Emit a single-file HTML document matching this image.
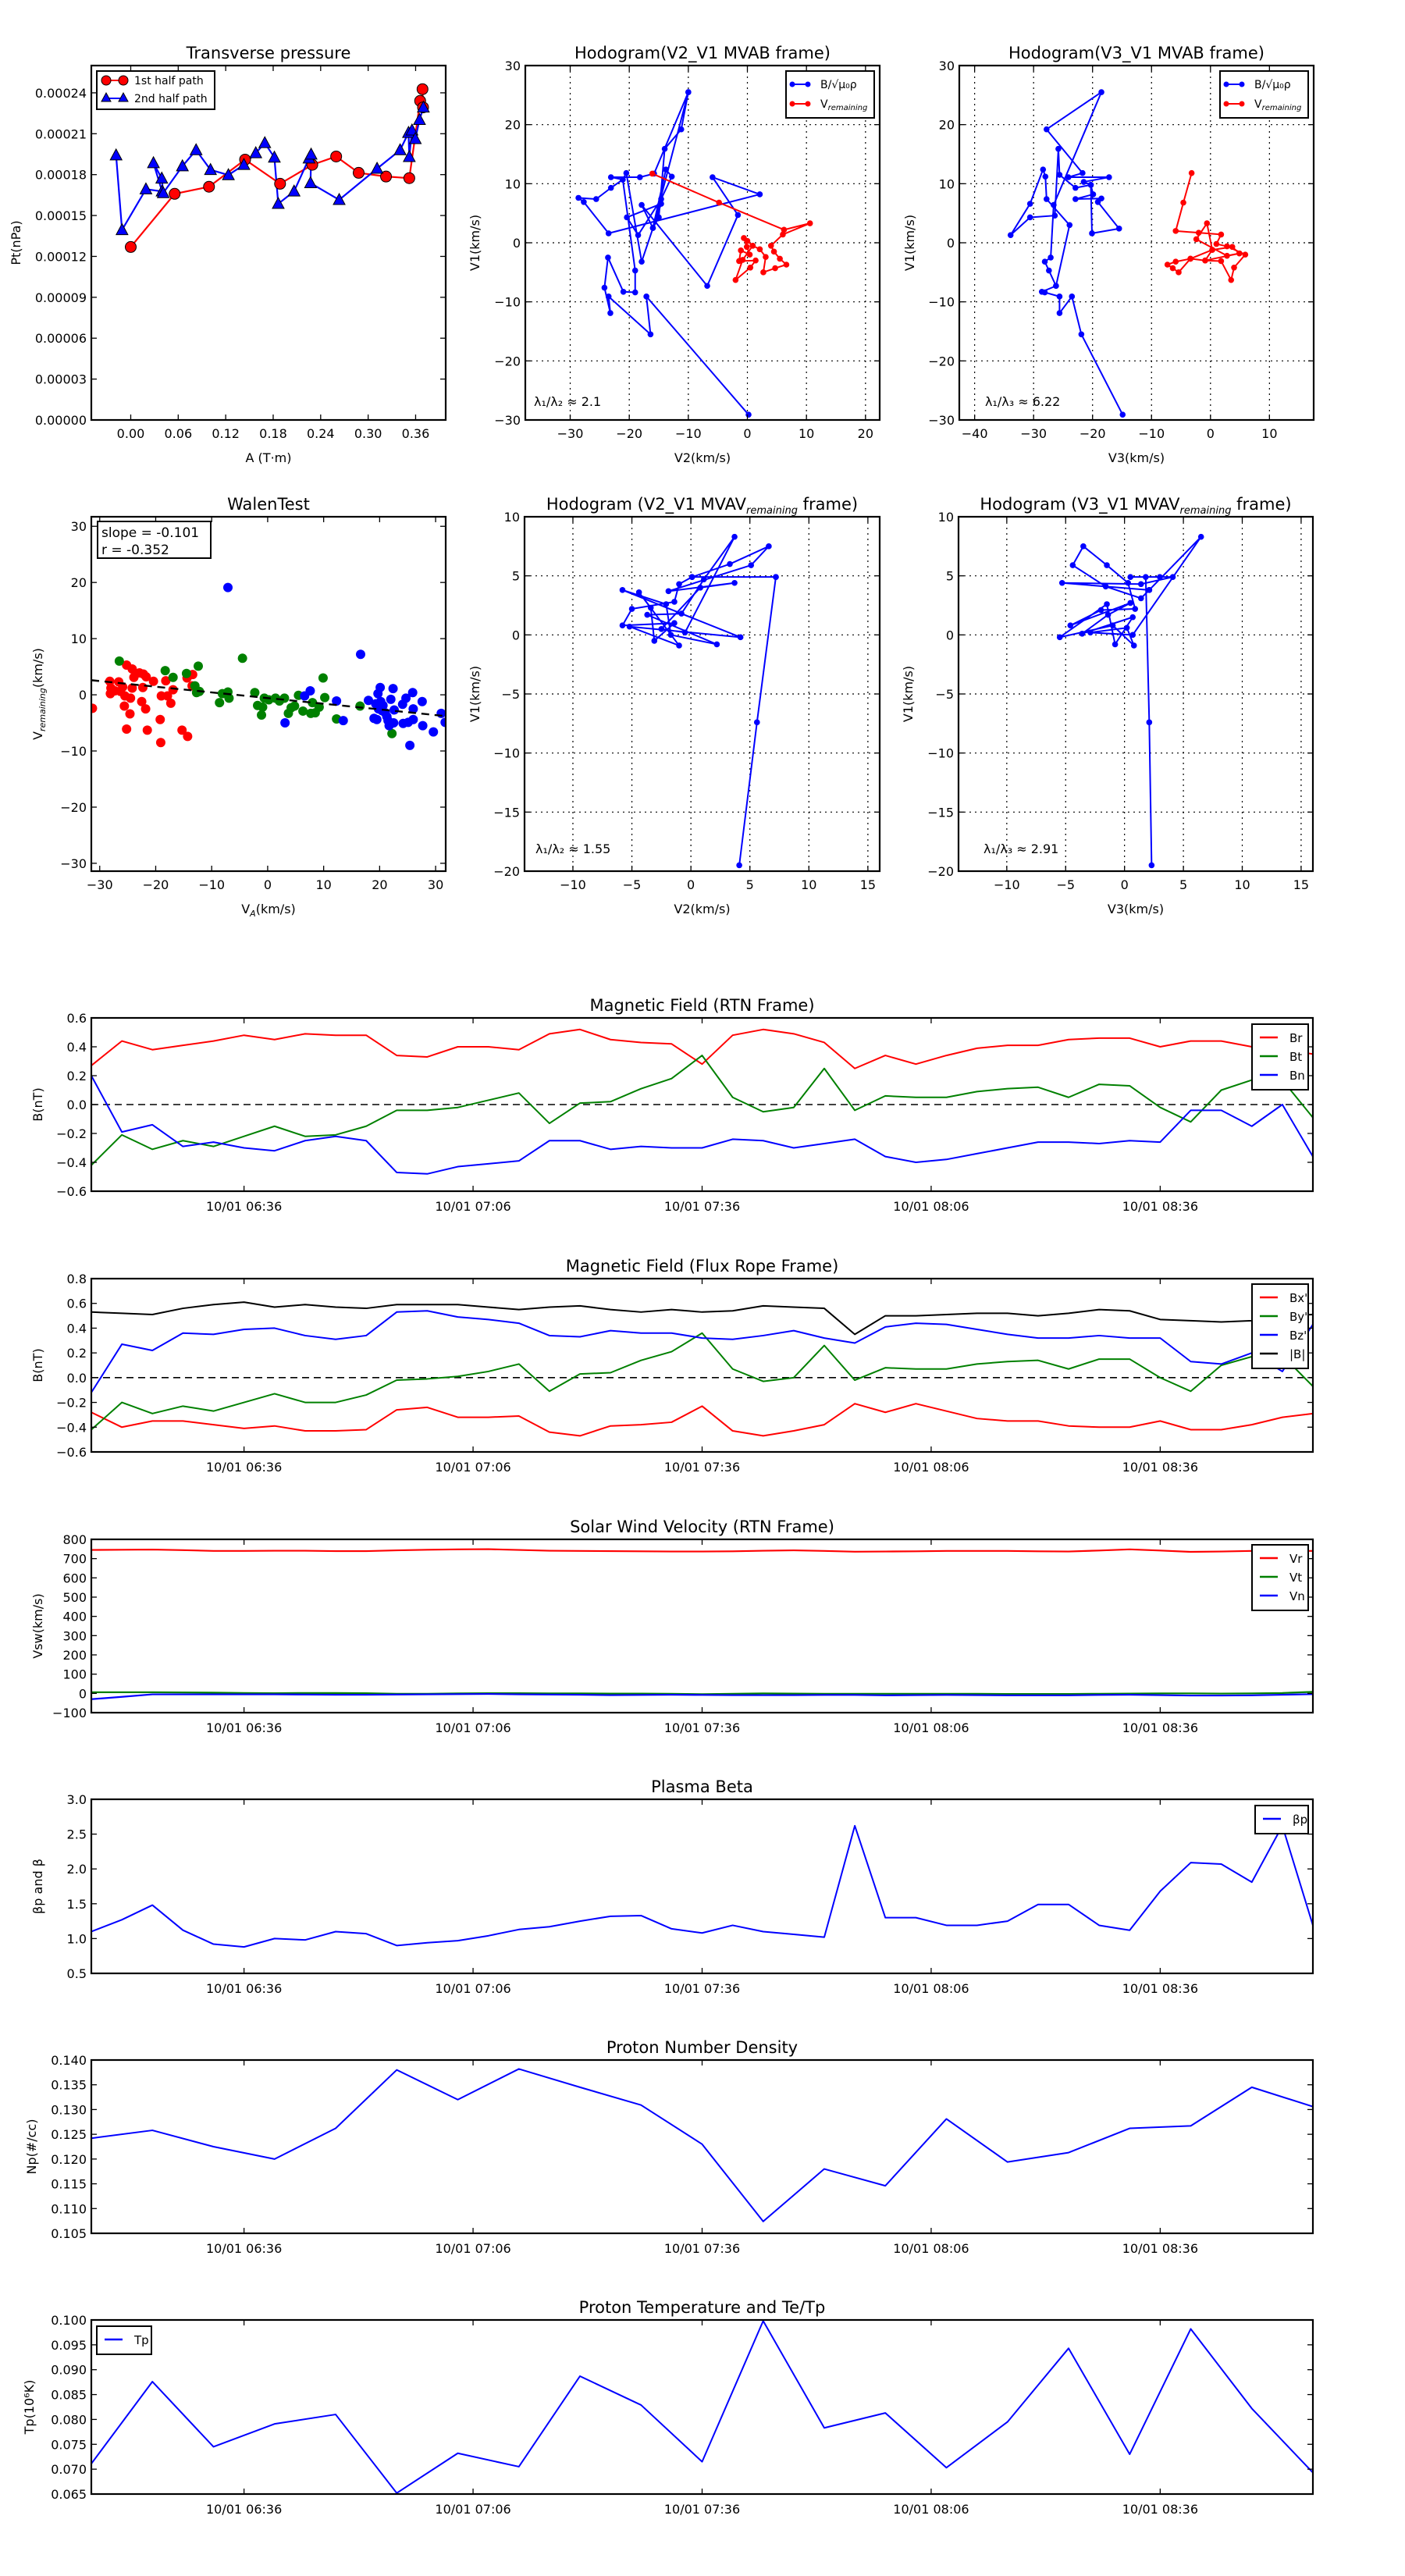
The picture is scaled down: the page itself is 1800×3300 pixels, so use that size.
<!DOCTYPE html>
<html><head><meta charset="utf-8"><title>Flux rope analysis</title>
<style>
html,body{margin:0;padding:0;background:#fff;}
svg{display:block;font-family:"DejaVu Sans","Liberation Sans",sans-serif;}
</style></head>
<body>
<svg id="fig" width="1800" height="3300" viewBox="0 0 1800 3300" xmlns="http://www.w3.org/2000/svg"><rect x="0" y="0" width="1800" height="3300" fill="#fff"/></svg>
<script>
// ---------- Data ----------
const ptFirstA=[0.000,0.0555,0.0989,0.1445,0.1887,0.2294,0.2596,0.288,0.3226,0.352,0.3657,0.3694,0.3687];
const ptFirstP=[1.269e-4,1.659e-4,1.711e-4,1.910e-4,1.733e-4,1.872e-4,1.933e-4,1.813e-4,1.786e-4,1.774e-4,2.341e-4,2.293e-4,2.427e-4];
const ptSecondA=[-0.0185,-0.011,0.0192,0.0396,0.0287,0.0392,0.0411,0.0653,0.0826,0.1008,0.1234,0.143,0.158,0.1694,0.1815,0.1864,0.2064,0.2253,0.2279,0.2272,0.2634,0.3113,0.3404,0.351,0.352,0.3554,0.3596,0.3649,0.3698];
const ptSecondP=[1.942e-4,1.394e-4,1.693e-4,1.677e-4,1.885e-4,1.772e-4,1.665e-4,1.862e-4,1.98e-4,1.835e-4,1.797e-4,1.872e-4,1.958e-4,2.032e-4,1.926e-4,1.586e-4,1.677e-4,1.919e-4,1.948e-4,1.738e-4,1.615e-4,1.844e-4,1.98e-4,2.107e-4,1.93e-4,2.125e-4,2.062e-4,2.202e-4,2.293e-4];

const h1BlueX=[-10.0,-11.2,-14.0,-15.0,-16.0,-13.8,-12.8,-14.6,-18.5,-20.4,-14.6,-17.9,-20.5,-21.1,-23.1,-18.2,-15.8,-10.0,-16.0,-17.9,-6.8,-1.6,-5.9,2.1,-23.5,-27.7,-28.6,-25.6,-23.1,-21.1,-19.0,-19.0,-21.0,-23.6,-24.2,-23.2,-23.5,-16.4,-17.1,0.2];
const h1BlueY=[25.5,19.2,15.9,4.3,2.5,12.4,11.2,7.4,1.3,4.3,6.6,-3.2,11.8,10.7,11.1,11.1,11.7,25.5,2.5,6.4,-7.3,4.7,11.1,8.2,1.6,6.9,7.6,7.4,9.3,10.7,-4.7,-8.4,-8.3,-2.5,-7.6,-11.9,-9.1,-15.5,-9.1,-29.1];
const h1RedX=[-16.1,-4.8,6.2,10.6,6.0,4.0,4.5,5.5,6.6,4.7,2.7,3.1,2.1,0.9,0,-0.6,-0.1,0.4,-1.1,-1.4,1.4,0.5,-2.0,-0.8,0.9];
const h1RedY=[11.7,6.8,2.2,3.3,1.4,-0.5,-1.5,-2.7,-3.7,-4.3,-5.0,-2.4,-1.1,-0.5,0.3,0.8,-0.7,-2.0,-1.3,-3.1,-3.0,-4.2,-6.3,-2.9,-0.5];

const h2BlueX=[-14.9,-21.9,-23.5,-25.6,-25.6,-28.1,-28.6,-26.2,-27.4,-28.1,-27.1,-26.6,-18.5,-27.8,-21.7,-24.1,-17.2,-21.5,-20.3,-19.9,-22.9,-18.5,-19.1,-15.5,-20.1,-20.3,-22.9,-25.6,-25.8,-26.4,-30.6,-33.9,-30.6,-28.4,-28.0,-27.8,-23.9,-26.2];
const h2BlueY=[-29.1,-15.5,-9.1,-11.9,-9.1,-8.4,-8.3,-7.3,-4.7,-3.2,-2.5,6.4,25.5,19.2,11.8,11.1,11.1,10.3,9.8,8.2,7.4,7.5,6.9,2.4,1.6,9.8,9.3,11.5,15.9,4.6,4.3,1.3,6.6,12.4,11.2,7.4,3.0,-7.3];
const h2RedX=[-3.2,-4.6,-5.9,-2.0,1.8,1.0,2.8,5.9,4.0,3.5,1.8,-0.9,-3.4,-5.9,-7.3,-6.4,-5.4,-3.4,0.3,-0.6,-2.4,2.8,4.9,3.7,0.3,-0.9,4.9];
const h2RedY=[11.8,6.8,2.0,1.7,1.4,-0.2,-0.6,-2.0,-4.2,-6.3,-3.1,-3.0,-2.7,-3.2,-3.7,-4.3,-5.0,-2.7,-1.2,3.3,0.6,-2.2,-1.8,-0.7,-1.2,-3.0,-1.8];

const walenRedX=[-31.3,-28.2,-28.1,-28.0,-27.3,-26.6,-26.3,-25.9,-25.6,-25.5,-25.2,-25.2,-24.6,-24.5,-24.2,-24.2,-23.9,-22.9,-22.5,-22.3,-22.2,-21.8,-21.7,-21.5,-20.4,-19.2,-19.1,-19.0,-18.2,-17.9,-17.3,-16.9,-15.3,-14.4,-14.3,-13.5,-13.4];
const walenRedY=[-2.4,2.4,0.2,1.2,0.7,2.3,0.6,1.4,-2.0,-0.2,5.3,-6.1,-3.4,-0.6,4.6,1.2,3.1,3.9,-1.2,1.3,3.7,-2.5,3.2,-6.3,2.4,-4.4,-8.5,-0.2,2.5,-0.2,-1.5,0.9,-6.3,3.0,-7.4,1.6,3.6];
const walenGreenX=[-26.5,-18.3,-16.9,-14.5,-13.0,-12.7,-12.4,-12.2,-8.6,-8.1,-7.1,-6.9,-4.5,-2.3,-1.8,-1.1,-0.9,-0.6,0.2,1.4,2.1,3.0,3.7,4.2,4.8,5.5,6.3,7.7,8.0,8.5,9.2,9.9,10.2,12.3,16.5,22.2];
const walenGreenY=[6.0,4.3,3.1,3.8,1.6,0.4,5.1,0.6,-1.4,0.2,0.5,-0.6,6.5,0.4,-1.9,-3.6,-2.2,-0.6,-0.9,-0.6,-1.1,-0.6,-3.3,-2.3,-2.0,-0.1,-2.9,-3.3,-1.4,-3.2,-2.2,3.0,-0.5,-4.3,-2.0,-6.9];
const walenBlueX=[-7.1,3.1,6.6,7.6,12.3,13.5,16.6,18.0,19.0,19.3,19.5,19.7,19.8,20.1,20.2,20.4,20.6,21.0,21.3,21.5,21.7,22.0,22.4,22.5,22.6,24.1,24.2,24.7,25.1,25.4,25.9,26.0,26.0,27.6,27.7,29.6,31.0,31.7];
const walenBlueY=[19.1,-5.0,-0.2,0.7,-1.1,-4.6,7.2,-1.0,-4.2,-1.6,-4.4,0.2,-2.5,1.3,-1.2,-2.8,-1.9,-3.2,-3.9,-4.6,-5.5,-0.8,1.1,-5.0,-2.7,-1.7,-5.1,-0.6,-4.9,-9.0,0.4,-2.5,-4.4,-1.2,-5.5,-6.6,-3.3,-4.9];
const walenSlope=-0.101, walenIntercept=-0.58;

const h3X=[4.1,5.6,7.2,0.1,-1.0,-1.4,-5.0,-5.8,-1.4,-3.1,-3.4,-4.4,-1.0,-5.2,4.2,-5.8,-2.1,-1.7,2.2,-3.7,-0.8,1.1,3.7,-0.5,-2.5,0.8,3.7,-1.9,5.1,6.6,3.3,0.1,7.2];
const h3Y=[-19.5,-7.4,4.9,4.9,4.3,2.8,2.2,0.8,1.0,-0.5,2.3,3.6,-0.9,0.7,-0.2,3.8,2.6,0,-0.8,1.7,1.8,4.7,8.3,0.2,0.5,4.0,4.4,3.7,5.9,7.5,6.0,4.9,4.9];
const h4X=[2.3,2.1,1.8,0.5,3.0,4.1,1.4,-5.3,2.1,1.4,-1.6,-4.4,-3.5,-1.5,0.3,0.9,-2.0,-4.6,0.5,-1.4,-3.6,0.7,-0.8,-1.5,-5.5,-1.0,0.8,0.2,-2.9,0.7,6.5,2.1];
const h4Y=[-19.5,-7.4,4.9,4.9,4.9,4.9,4.3,4.4,3.8,3.1,4.1,5.9,7.5,5.9,4.4,2.2,2.1,0.8,2.7,1.7,0.1,1.5,-0.8,2.6,-0.2,0.8,-0.9,0.6,0.2,0,8.3,3.8];

// time series (4-min cadence, 41 points from 06:16)
const tickMinutes=[20,50,80,110,140];
const tickLabels=["10/01 06:36","10/01 07:06","10/01 07:36","10/01 08:06","10/01 08:36"];
const Br=[0.27,0.44,0.38,0.41,0.44,0.48,0.45,0.49,0.48,0.48,0.34,0.33,0.40,0.40,0.38,0.49,0.52,0.45,0.43,0.42,0.28,0.48,0.52,0.49,0.43,0.25,0.34,0.28,0.34,0.39,0.41,0.41,0.45,0.46,0.46,0.40,0.44,0.44,0.40,0.38,0.35];
const Bt=[-0.42,-0.21,-0.31,-0.25,-0.29,-0.22,-0.15,-0.22,-0.21,-0.15,-0.04,-0.04,-0.02,0.03,0.08,-0.13,0.01,0.02,0.11,0.18,0.34,0.05,-0.05,-0.02,0.25,-0.04,0.06,0.05,0.05,0.09,0.11,0.12,0.05,0.14,0.13,-0.02,-0.12,0.10,0.17,0.17,-0.09];
const Bn=[0.20,-0.19,-0.14,-0.29,-0.26,-0.30,-0.32,-0.25,-0.22,-0.25,-0.47,-0.48,-0.43,-0.41,-0.39,-0.25,-0.25,-0.31,-0.29,-0.30,-0.30,-0.24,-0.25,-0.30,-0.27,-0.24,-0.36,-0.40,-0.38,-0.34,-0.30,-0.26,-0.26,-0.27,-0.25,-0.26,-0.04,-0.04,-0.15,0.00,-0.36];
const Bxp=[-0.28,-0.40,-0.35,-0.35,-0.38,-0.41,-0.39,-0.43,-0.43,-0.42,-0.26,-0.24,-0.32,-0.32,-0.31,-0.44,-0.47,-0.39,-0.38,-0.36,-0.23,-0.43,-0.47,-0.43,-0.38,-0.21,-0.28,-0.21,-0.27,-0.33,-0.35,-0.35,-0.39,-0.40,-0.40,-0.35,-0.42,-0.42,-0.38,-0.32,-0.29];
const Byp=[-0.42,-0.20,-0.29,-0.23,-0.27,-0.20,-0.13,-0.20,-0.20,-0.14,-0.02,-0.01,0.01,0.05,0.11,-0.11,0.03,0.04,0.14,0.21,0.36,0.07,-0.03,0.00,0.26,-0.02,0.08,0.07,0.07,0.11,0.13,0.14,0.07,0.15,0.15,0.00,-0.11,0.10,0.17,0.18,-0.07];
const Bzp=[-0.12,0.27,0.22,0.36,0.35,0.39,0.40,0.34,0.31,0.34,0.53,0.54,0.49,0.47,0.44,0.34,0.33,0.38,0.36,0.36,0.32,0.31,0.34,0.38,0.32,0.28,0.41,0.44,0.43,0.39,0.35,0.32,0.32,0.34,0.32,0.32,0.13,0.11,0.20,0.05,0.43];
const Bmag=[0.53,0.52,0.51,0.56,0.59,0.61,0.57,0.59,0.57,0.56,0.59,0.59,0.59,0.57,0.55,0.57,0.58,0.55,0.53,0.55,0.53,0.54,0.58,0.57,0.56,0.35,0.50,0.50,0.51,0.52,0.52,0.50,0.52,0.55,0.54,0.47,0.46,0.45,0.46,0.50,0.51];
const Vr=[745,746,747,744,740,740,741,741,739,739,743,746,748,749,745,741,740,739,738,737,737,738,741,743,740,736,737,738,740,740,740,738,737,742,748,742,735,737,740,740,740];
const Vt=[6,6,6,5,4,2,1,2,2,1,-2,-2,0,1,1,0,0,-1,-1,-2,-4,-2,0,-1,-2,-2,-2,-2,-2,-2,-3,-3,-3,-2,-1,0,0,-1,0,2,8];
const Vn=[-30,-18,-5,-5,-5,-5,-5,-6,-7,-7,-6,-5,-4,-3,-5,-6,-7,-9,-8,-7,-8,-9,-9,-9,-8,-8,-10,-9,-8,-9,-10,-10,-10,-8,-7,-9,-11,-11,-10,-7,-4];
const betaP=[1.10,1.27,1.48,1.12,0.92,0.88,1.00,0.98,1.10,1.07,0.90,0.94,0.97,1.04,1.13,1.17,1.25,1.32,1.33,1.14,1.08,1.19,1.10,1.06,1.02,2.62,1.30,1.30,1.19,1.19,1.25,1.49,1.49,1.19,1.12,1.68,2.09,2.07,1.81,2.62,1.19];
// 8-min cadence, 21 points
const Np=[0.1242,0.1258,0.1225,0.1200,0.1262,0.1380,0.1320,0.1382,0.1345,0.1309,0.1230,0.1074,0.1180,0.1146,0.1281,0.1194,0.1213,0.1262,0.1267,0.1345,0.1306];
const Tp=[0.0711,0.0876,0.0745,0.0791,0.0810,0.0652,0.0732,0.0705,0.0887,0.0829,0.0715,0.0998,0.0783,0.0813,0.0703,0.0795,0.0943,0.0730,0.0982,0.0822,0.0693];

// ---------- Helpers ----------
const NS='http://www.w3.org/2000/svg';
const fig=document.getElementById('fig');
function mk(tag,parent){const e=document.createElementNS(NS,tag);parent.appendChild(e);return e;}
function setA(e,o){for(const k in o)e.setAttribute(k,o[k]);return e;}
function txt(parent,x,y,s,size,anchor,extra){const t=mk('text',parent);setA(t,{x:x,y:y,'font-size':size,'text-anchor':anchor||'middle',fill:'#000'});if(extra)setA(t,extra);t.textContent=s;return t;}
function fmt(v,d){const s=Math.abs(v).toFixed(d);return (v<-1e-12?'\u2212':'')+s;}
let clipN=0;

function makeAxes(c){
  const g=mk('g',fig);
  
  
  const [x0,y0,x1,y1]=c.box;
  const sx=v=>x0+(v-c.xlim[0])/(c.xlim[1]-c.xlim[0])*(x1-x0);
  const sy=v=>y1-(v-c.ylim[0])/(c.ylim[1]-c.ylim[0])*(y1-y0);
  const id='clip'+(clipN++);
  const cp=mk('clipPath',g);cp.setAttribute('id',id);
  setA(mk('rect',cp),{x:x0,y:y0,width:x1-x0,height:y1-y0});
  const grid=mk('g',g);
  
  
  const data=mk('g',g);data.setAttribute('clip-path','url(#'+id+')');
  const front=mk('g',g);
  // ticks
  const tg=mk('g',front);
  
  
  c.xticks.forEach((v,i)=>{
    const X=sx(v);
    if(c.grid)setA(mk('line',grid),{x1:X,x2:X,y1:y0,y2:y1,stroke:'#000','stroke-width':1.2,'stroke-dasharray':'2,5'});
    setA(mk('line',tg),{x1:X,x2:X,y1:y1,y2:y1-7,stroke:'#000','stroke-width':1.3});
    setA(mk('line',tg),{x1:X,x2:X,y1:y0,y2:y0+7,stroke:'#000','stroke-width':1.3});
    const lab=txt(front,X,y1+(c.xtOff||23),c.xtl[i],c.tsize||16,'middle');
    
    
  });
  c.yticks.forEach((v,i)=>{
    const Y=sy(v);
    if(c.grid)setA(mk('line',grid),{x1:x0,x2:x1,y1:Y,y2:Y,stroke:'#000','stroke-width':1.2,'stroke-dasharray':'2,5'});
    setA(mk('line',tg),{x1:x0,x2:x0+7,y1:Y,y2:Y,stroke:'#000','stroke-width':1.3});
    setA(mk('line',tg),{x1:x1,x2:x1-7,y1:Y,y2:Y,stroke:'#000','stroke-width':1.3});
    const lab=txt(front,x0-6,Y+6,c.ytl[i],c.tsize||16,'end');
    
    
  });
  const fr=setA(mk('rect',front),{x:x0,y:y0,width:x1-x0,height:y1-y0,fill:'none',stroke:'#000','stroke-width':2.2});
  
  
  const tt=txt(front,(x0+x1)/2,y0-9,c.title,c.titleSize||21,'middle');
  
  
  if(c.titleSub){const ts=mk('tspan',tt);setA(ts,{'font-size':13,'font-style':'italic',dy:5});ts.textContent=c.titleSub;const ts2=mk('tspan',tt);setA(ts2,{dy:-5});ts2.textContent=c.titleAfter||'';}
  if(c.xlabel){const xl=txt(front,(x0+x1)/2,y1+54,c.xlabel,16,'middle');
    
    
    if(c.xlabelSub){xl.textContent=c.xlabel;const s1=mk('tspan',xl);setA(s1,{'font-size':11,'font-style':'italic',dy:4});s1.textContent=c.xlabelSub;const s2=mk('tspan',xl);setA(s2,{dy:-4});s2.textContent=c.xlabelAfter;}
  }
  if(c.ylabel){const yx=c.ylabelX,yc=(y0+y1)/2;
    const yl=txt(front,yx,yc,c.ylabel,16,'middle',{transform:'rotate(-90 '+yx+' '+yc+')',dy:6});
    
    
    if(c.ylabelSub){yl.textContent=c.ylabel;const s1=mk('tspan',yl);setA(s1,{'font-size':11,'font-style':'italic',dy:4});s1.textContent=c.ylabelSub;const s2=mk('tspan',yl);setA(s2,{dy:-4});s2.textContent=c.ylabelAfter;}
  }
  return {g:g,data:data,front:front,sx:sx,sy:sy};
}
function polyline(ax,xs,ys,color,w,name){
  const p=mk('polyline',ax.data);
  
  
  setA(p,{points:xs.map((x,i)=>ax.sx(x).toFixed(2)+','+ax.sy(ys[i]).toFixed(2)).join(' '),fill:'none',stroke:color,'stroke-width':w,'stroke-linejoin':'round'});
  return p;
}
function dots(ax,xs,ys,color,r,name,edge){
  xs.forEach((x,i)=>{
    const c=mk('circle',ax.data);
    
    
    setA(c,{cx:ax.sx(x).toFixed(2),cy:ax.sy(ys[i]).toFixed(2),r:r,fill:color});
    if(edge)setA(c,{stroke:'#000','stroke-width':1});
  });
}
function tris(ax,xs,ys,color,name){
  xs.forEach((x,i)=>{
    const X=ax.sx(x),Y=ax.sy(ys[i]);
    const t=mk('polygon',ax.data);
    
    
    setA(t,{points:(X)+','+(Y-8)+' '+(X-7.5)+','+(Y+6)+' '+(X+7.5)+','+(Y+6),fill:color,stroke:'#000','stroke-width':1});
  });
}
function range(a,b,s){const r=[];for(let v=a;v<=b+s*1e-6;v+=s)r.push(+v.toFixed(6));return r;}
function legendBox(parent,x,y,w,h,name){
  const g=mk('g',parent);
  
  
  setA(mk('rect',g),{x:x,y:y,width:w,height:h,fill:'#fff',stroke:'#000','stroke-width':2});
  return g;
}

// ---------- Row 1 ----------
{
  const xt=range(0,0.36,0.06), yt=range(0,0.00024,0.00003);
  const ax=makeAxes({name:'transverse-pressure-chart',box:[117,84,571,538],xlim:[-0.0498,0.398],ylim:[0,0.00026],
    xticks:xt,xtl:xt.map(v=>v.toFixed(2)),yticks:yt,ytl:yt.map(v=>v.toFixed(5)),
    title:'Transverse pressure',xlabel:'A (T\u00b7m)',ylabel:'Pt(nPa)',ylabelX:20});
  polyline(ax,ptFirstA,ptFirstP,'#f00',2.2,'first-half-line');
  polyline(ax,ptSecondA,ptSecondP,'#00f',2.2,'second-half-line');
  dots(ax,ptFirstA,ptFirstP,'#f00',7,'first-half-point',true);
  tris(ax,ptSecondA,ptSecondP,'#00f','second-half-point');
  const lg=legendBox(ax.front,124,91,151,49,'legend');
  setA(mk('line',lg),{x1:136,x2:158,y1:103,y2:103,stroke:'#f00','stroke-width':2});
  setA(mk('circle',lg),{cx:136,cy:103,r:6,fill:'#f00',stroke:'#000'});
  setA(mk('circle',lg),{cx:158,cy:103,r:6,fill:'#f00',stroke:'#000'});
  txt(lg,172,108,'1st half path',14,'start');
  setA(mk('line',lg),{x1:136,x2:158,y1:126,y2:126,stroke:'#00f','stroke-width':2});
  setA(mk('polygon',lg),{points:'136,119 130,130 142,130',fill:'#00f',stroke:'#000'});
  setA(mk('polygon',lg),{points:'158,119 152,130 164,130',fill:'#00f',stroke:'#000'});
  txt(lg,172,131,'2nd half path',14,'start');
}
function hodoLegend(ax,x){
  const lg=legendBox(ax.front,x,91,113,60,'legend');
  setA(mk('line',lg),{x1:x+8,x2:x+28,y1:108,y2:108,stroke:'#00f','stroke-width':2});
  setA(mk('circle',lg),{cx:x+8,cy:108,r:3.5,fill:'#00f'});setA(mk('circle',lg),{cx:x+28,cy:108,r:3.5,fill:'#00f'});
  txt(lg,x+44,113,'B/\u221a\u03bc\u2080\u03c1',14,'start');
  setA(mk('line',lg),{x1:x+8,x2:x+28,y1:133,y2:133,stroke:'#f00','stroke-width':2});
  setA(mk('circle',lg),{cx:x+8,cy:133,r:3.5,fill:'#f00'});setA(mk('circle',lg),{cx:x+28,cy:133,r:3.5,fill:'#f00'});
  const t=txt(lg,x+44,138,'V',14,'start');const s=mk('tspan',t);setA(s,{'font-size':10,'font-style':'italic',dy:3});s.textContent='remaining';
}
{
  const xt=range(-30,20,10), yt=range(-30,30,10);
  const ax=makeAxes({name:'hodogram-v2-v1-mvab',box:[673,84,1127,538],xlim:[-37.6,22.4],ylim:[-30,30],grid:true,
    xticks:xt,xtl:xt.map(v=>fmt(v,0)),yticks:yt,ytl:yt.map(v=>fmt(v,0)),
    title:'Hodogram(V2_V1 MVAB frame)',xlabel:'V2(km/s)',ylabel:'V1(km/s)',ylabelX:608});
  polyline(ax,h1BlueX,h1BlueY,'#00f',2,'b-field-path');dots(ax,h1BlueX,h1BlueY,'#00f',3.8,'b-field-point');
  polyline(ax,h1RedX,h1RedY,'#f00',2,'v-remaining-path');dots(ax,h1RedX,h1RedY,'#f00',3.8,'v-remaining-point');
  hodoLegend(ax,1007);
  const r=txt(ax.front,684,520,'\u03bb\u2081/\u03bb\u2082 \u2248 2.1',16,'start');
}
{
  const xt=range(-40,10,10), yt=range(-30,30,10);
  const ax=makeAxes({name:'hodogram-v3-v1-mvab',box:[1229,84,1683,538],xlim:[-42.6,17.5],ylim:[-30,30],grid:true,
    xticks:xt,xtl:xt.map(v=>fmt(v,0)),yticks:yt,ytl:yt.map(v=>fmt(v,0)),
    title:'Hodogram(V3_V1 MVAB frame)',xlabel:'V3(km/s)',ylabel:'V1(km/s)',ylabelX:1165});
  polyline(ax,h2BlueX,h2BlueY,'#00f',2,'b-field-path');dots(ax,h2BlueX,h2BlueY,'#00f',3.8,'b-field-point');
  polyline(ax,h2RedX,h2RedY,'#f00',2,'v-remaining-path');dots(ax,h2RedX,h2RedY,'#f00',3.8,'v-remaining-point');
  hodoLegend(ax,1563);
  const r=txt(ax.front,1262,520,'\u03bb\u2081/\u03bb\u2083 \u2248 6.22',16,'start');
}
// ---------- Row 2 ----------
{
  const t=range(-30,30,10);
  const ax=makeAxes({name:'walen-test-chart',box:[117,662,571,1116],xlim:[-31.5,31.8],ylim:[-31.4,31.7],
    xticks:t,xtl:t.map(v=>fmt(v,0)),yticks:t,ytl:t.map(v=>fmt(v,0)),
    title:'WalenTest',xlabel:'V',xlabelSub:'A',xlabelAfter:'(km/s)',ylabel:'V',ylabelSub:'remaining',ylabelAfter:'(km/s)',ylabelX:48});
  dots(ax,walenRedX,walenRedY,'#f00',6,'walen-point-red');
  dots(ax,walenGreenX,walenGreenY,'#008000',6,'walen-point-green');
  dots(ax,walenBlueX,walenBlueY,'#00f',6,'walen-point-blue');
  const fl=mk('line',ax.data);
  
  
  setA(fl,{x1:ax.sx(-31.5),y1:ax.sy(walenSlope*-31.5+walenIntercept),x2:ax.sx(31.8),y2:ax.sy(walenSlope*31.8+walenIntercept),stroke:'#000','stroke-width':2.4,'stroke-dasharray':'10,7'});
  const lg=legendBox(ax.front,125,668,145,47,'fit-stats-box');
  txt(lg,130,688,'slope = -0.101',17,'start');
  txt(lg,130,710,'r = -0.352',17,'start');
}
function row2Hodo(name,box,X,Y,title,sub,xlabel,ylx,ratio,rx){
  const xt=range(-10,15,5), yt=range(-20,10,5);
  const ax=makeAxes({name:name,box:box,xlim:[-14.1,16],ylim:[-20,10],grid:true,
    xticks:xt,xtl:xt.map(v=>fmt(v,0)),yticks:yt,ytl:yt.map(v=>fmt(v,0)),
    title:title,titleSub:sub,titleAfter:' frame)',xlabel:xlabel,ylabel:'V1(km/s)',ylabelX:ylx});
  polyline(ax,X,Y,'#00f',2,'b-field-path');dots(ax,X,Y,'#00f',3.8,'b-field-point');
  const r=txt(ax.front,rx,1093,ratio,16,'start');
}
row2Hodo('hodogram-v2-v1-mvav',[672,662,1127,1116],h3X,h3Y,'Hodogram (V2_V1 MVAV','remaining','V2(km/s)',608,'\u03bb\u2081/\u03bb\u2082 \u2248 1.55',686);
row2Hodo('hodogram-v3-v1-mvav',[1228,662,1682,1116],h4X,h4Y,'Hodogram (V3_V1 MVAV','remaining','V3(km/s)',1163,'\u03bb\u2081/\u03bb\u2083 \u2248 2.91',1260);

// ---------- Time series ----------
const T4=Br.map((_,i)=>i*4);
const T8=Np.map((_,i)=>i*8);
function tsAxes(name,y0,y1,ylim,yt,dec,title,ylabel,ylx){
  return makeAxes({name:name,box:[117,y0,1682,y1],xlim:[0,160],ylim:ylim,xticks:tickMinutes,xtl:tickLabels,xtOff:25,
    yticks:yt,ytl:yt.map(v=>fmt(v,dec)),title:title,ylabel:ylabel,ylabelX:ylx||48});
}
function zeroLine(ax){const l=mk('line',ax.data);
  
  
  setA(l,{x1:ax.sx(0),x2:ax.sx(160),y1:ax.sy(0),y2:ax.sy(0),stroke:'#000','stroke-width':1.6,'stroke-dasharray':'9,6'});}
function tsLegend(ax,x,y,w,items){
  const h=items.length*24+12;
  const lg=legendBox(ax.front,x,y,w,h,'legend');
  items.forEach((it,i)=>{const yy=y+17+i*24;
    setA(mk('line',lg),{x1:x+10,x2:x+33,y1:yy,y2:yy,stroke:it[1],'stroke-width':2.5});
    txt(lg,x+48,yy+6,it[0],15,'start');});
}
{
  const ax=tsAxes('magnetic-field-rtn-chart',1304,1526,[-0.6,0.6],range(-0.6,0.6,0.2),1,'Magnetic Field (RTN Frame)','B(nT)');
  zeroLine(ax);
  polyline(ax,T4,Br,'#f00',2,'br-line');polyline(ax,T4,Bt,'#008000',2,'bt-line');polyline(ax,T4,Bn,'#00f',2,'bn-line');
  tsLegend(ax,1604,1312,72,[['Br','#f00'],['Bt','#008000'],['Bn','#00f']]);
}
{
  const ax=tsAxes('magnetic-field-flux-rope-chart',1638,1860,[-0.6,0.8],range(-0.6,0.8,0.2),1,'Magnetic Field (Flux Rope Frame)','B(nT)');
  zeroLine(ax);
  polyline(ax,T4,Bxp,'#f00',2,'bx-line');polyline(ax,T4,Byp,'#008000',2,'by-line');polyline(ax,T4,Bzp,'#00f',2,'bz-line');polyline(ax,T4,Bmag,'#000',2,'bmag-line');
  tsLegend(ax,1604,1645,72,[["Bx'",'#f00'],["By'",'#008000'],["Bz'",'#00f'],['|B|','#000']]);
}
{
  const ax=tsAxes('solar-wind-velocity-chart',1972,2194,[-100,800],range(-100,800,100),0,'Solar Wind Velocity (RTN Frame)','Vsw(km/s)');
  polyline(ax,T4,Vr,'#f00',2.2,'vr-line');polyline(ax,T4,Vt,'#008000',2.2,'vt-line');polyline(ax,T4,Vn,'#00f',2.2,'vn-line');
  tsLegend(ax,1604,1979,72,[['Vr','#f00'],['Vt','#008000'],['Vn','#00f']]);
}
{
  const ax=tsAxes('plasma-beta-chart',2305,2528,[0.5,3.0],range(0.5,3.0,0.5),1,'Plasma Beta','\u03b2p and \u03b2');
  polyline(ax,T4,betaP,'#00f',2,'beta-p-line');
  tsLegend(ax,1608,2313,68,[['\u03b2p','#00f']]);
}
{
  const ax=tsAxes('proton-density-chart',2639,2861,[0.105,0.140],range(0.105,0.140,0.005),3,'Proton Number Density','Np(#/cc)',40);
  polyline(ax,T8,Np,'#00f',2,'np-line');
}
{
  const ax=tsAxes('proton-temperature-chart',2972,3195,[0.065,0.100],range(0.065,0.100,0.005),3,'Proton Temperature and Te/Tp','Tp(10\u2076K)',37);
  polyline(ax,T8,Tp,'#00f',2,'tp-line');
  tsLegend(ax,124,2980,70,[['Tp','#00f']]);
}
</script>
</body></html>
